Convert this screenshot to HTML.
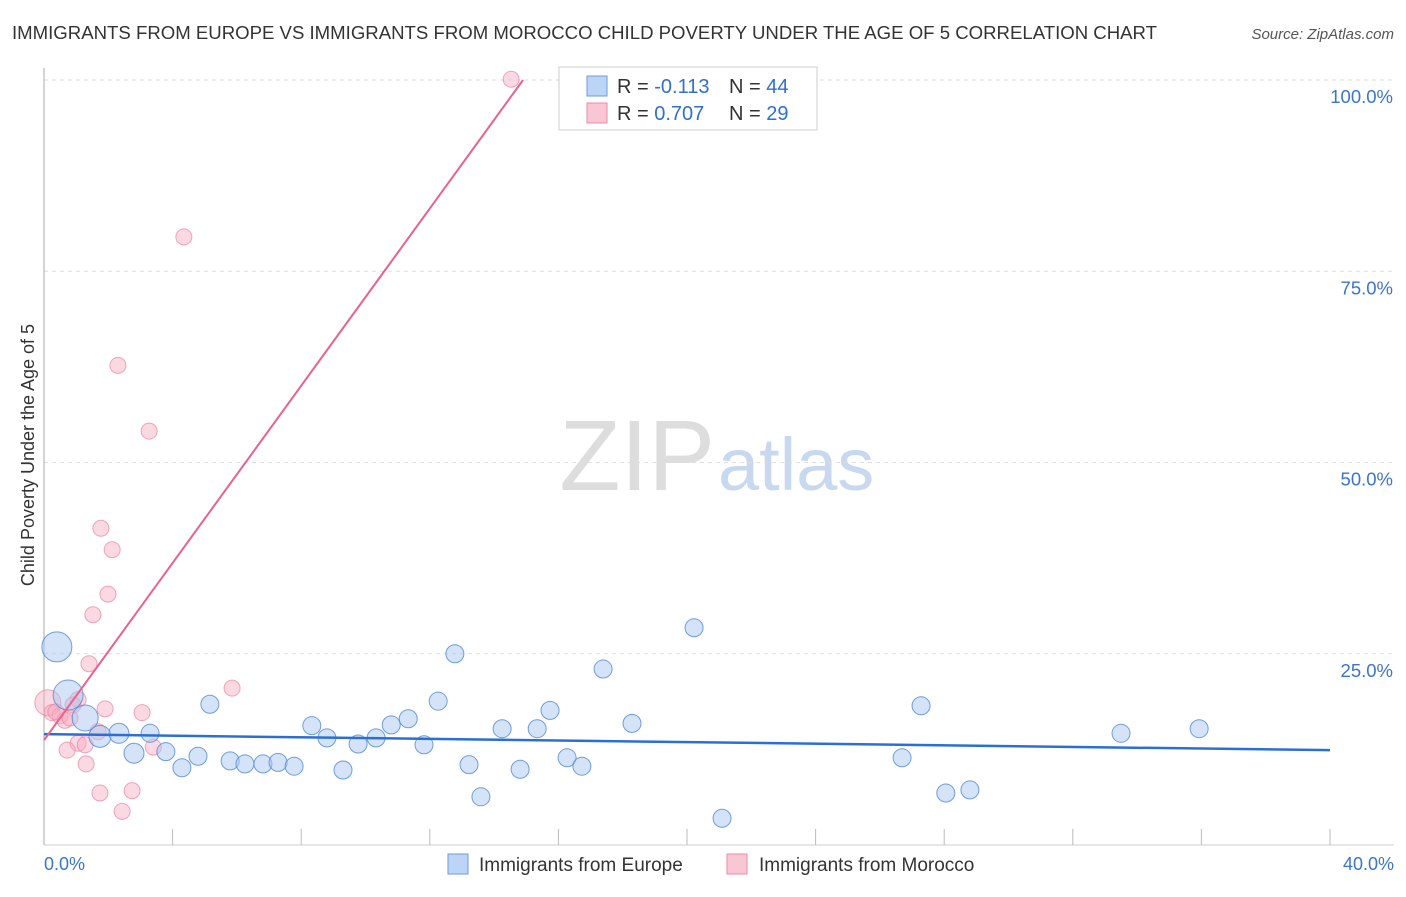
<!DOCTYPE html>
<html><head><meta charset="utf-8"><style>
body{margin:0;background:#fff;font-family:"Liberation Sans",sans-serif;}
svg text{font-family:"Liberation Sans",sans-serif;}
</style></head><body>
<svg id="c" width="1406" height="892" xmlns="http://www.w3.org/2000/svg">
<text x="12" y="39" font-size="18.6" fill="#333">IMMIGRANTS FROM EUROPE VS IMMIGRANTS FROM MOROCCO CHILD POVERTY UNDER THE AGE OF 5 CORRELATION CHART</text>
<text x="1394" y="39" font-size="15" fill="#555" font-style="italic" text-anchor="end">Source: ZipAtlas.com</text>
<text x="715" y="490" font-size="100" fill="#ddd" text-anchor="end" font-family="Liberation Serif">ZIP</text>
<text x="718" y="490" font-size="74" fill="#c8d8ef">atlas</text>
<text transform="translate(34,455) rotate(-90)" font-size="18" fill="#333" text-anchor="middle">Child Poverty Under the Age of 5</text>
<g id="grid"></g><g id="pts"></g><g id="lines"></g>
<g>
<rect x="559" y="67" width="258" height="63" fill="#fff" stroke="#ccc"/>
<rect x="587" y="76" width="20" height="20" fill="#bcd4f5" stroke="#6f9ae0"/>
<rect x="587" y="103" width="20" height="20" fill="#f9c6d4" stroke="#ec8aa6"/>
<text x="617" y="93" font-size="20" fill="#333">R = <tspan fill="#2f6fd0">-0.113</tspan></text>
<text x="729" y="93" font-size="20" fill="#333">N = <tspan fill="#2f6fd0">44</tspan></text>
<text x="617" y="120" font-size="20" fill="#333">R = <tspan fill="#2f6fd0">0.707</tspan></text>
<text x="729" y="120" font-size="20" fill="#333">N = <tspan fill="#2f6fd0">29</tspan></text>
</g>
<g>
<rect x="448" y="854" width="20" height="20" fill="#bcd4f5" stroke="#6f9ae0"/>
<text x="479" y="871" font-size="19" fill="#333">Immigrants from Europe</text>
<rect x="727" y="854" width="20" height="20" fill="#f9c6d4" stroke="#ec8aa6"/>
<text x="759" y="871" font-size="19" fill="#333">Immigrants from Morocco</text>
</g>
<text x="44" y="870" font-size="18" fill="#3a74d0">0.0%</text>
<text x="1394" y="870" font-size="18" fill="#3a74d0" text-anchor="end">40.0%</text>
</svg>
<script>
const yTicks=[100,75,50,25];
const euroX=[0.40,0.75,1.28,1.74,2.33,2.80,3.30,3.79,4.29,4.79,5.16,5.79,6.25,6.81,7.28,7.78,8.33,8.80,9.30,9.77,10.33,10.80,11.33,11.82,12.26,12.78,13.22,13.59,14.25,14.81,15.34,15.74,16.27,16.73,17.39,18.29,20.22,21.09,26.69,27.28,28.05,28.80,33.50,35.93];
const euroY=[25.9,19.6,16.6,14.2,14.6,12.0,14.6,12.2,10.1,11.6,18.4,11.0,10.6,10.6,10.8,10.3,15.6,14.0,9.8,13.2,14.0,15.7,16.5,13.1,18.8,25.0,10.5,6.3,15.2,9.9,15.2,17.6,11.4,10.3,23.0,15.9,28.4,3.5,11.4,18.2,6.8,7.2,14.6,15.2];
const euroR=[15,15,13,11,10,10,9,9,9,9,9,9,9,9,9,9,9,9,9,9,9,9,9,9,9,9,9,9,9,9,9,9,9,9,9,9,9,9,9,9,9,9,9,9];
const morX=[14.53,4.35,2.30,3.27,1.77,2.12,1.99,1.52,1.40,5.85,0.12,0.25,0.50,1.06,0.90,0.65,3.05,1.68,3.40,1.06,0.72,1.31,1.74,2.74,2.43,0.81,0.37,1.28,1.9];
const morY=[100.1,79.5,62.7,54.1,41.4,38.6,32.8,30.1,23.7,20.5,18.6,17.3,16.9,19.0,18.3,16.3,17.3,14.8,12.8,13.3,12.4,10.6,6.8,7.1,4.4,16.6,17.4,13.1,17.8];
const euroTrend=[14.5,12.4];
const morTrend=[13.7,100];const morTrendX=[0,14.9];
const X=v=>44+v*32.15, Y=v=>845-v*7.65;
const NS="http://www.w3.org/2000/svg";
function mk(t,a,p){const e=document.createElementNS(NS,t);for(const k in a)e.setAttribute(k,a[k]);p.appendChild(e);return e;}
const g=document.getElementById('grid');
yTicks.forEach(t=>{
 const l=mk('line',{x1:44,x2:1394,y1:Y(t),y2:Y(t),stroke:'#ddd','stroke-dasharray':'4,4'},g);
 
 
 const tx=mk('text',{x:1393,y:Y(t)+23,'font-size':18.5,fill:'#3a74d0','text-anchor':'end'},g);
 tx.textContent=t.toFixed(1)+'%';
 
 
});
const ax=mk('line',{x1:44,x2:44,y1:68,y2:845,stroke:'#aaa'},g);


const bx=mk('line',{x1:44,x2:1394,y1:845,y2:845,stroke:'#ccc'},g);


for(let i=1;i<=10;i++){
 const t=mk('line',{x1:X(i*4),x2:X(i*4),y1:829,y2:845,stroke:'#bbb'},g);
 
 
}
const p=document.getElementById('pts');
morX.forEach((x,i)=>{
 const c=mk('circle',{cx:X(x),cy:Y(morY[i]),r:i==10?13:8,fill:'rgba(246,170,192,0.45)',stroke:'rgba(236,130,160,0.7)'},p);
 
 
});
euroX.forEach((x,i)=>{
 const c=mk('circle',{cx:X(x),cy:Y(euroY[i]),r:euroR[i],fill:'rgba(170,200,240,0.5)',stroke:'rgba(80,135,215,0.8)'},p);
 
 
});
const L=document.getElementById('lines');
const bl=mk('line',{x1:X(0),y1:Y(euroTrend[0]),x2:X(40),y2:Y(euroTrend[1]),stroke:'#2b6fd6','stroke-width':2.5},L);


const pl=mk('line',{x1:X(morTrendX[0]),y1:Y(morTrend[0]),x2:X(morTrendX[1]),y2:Y(morTrend[1]),stroke:'#e8628e','stroke-width':2},L);


</script>
</body></html>
